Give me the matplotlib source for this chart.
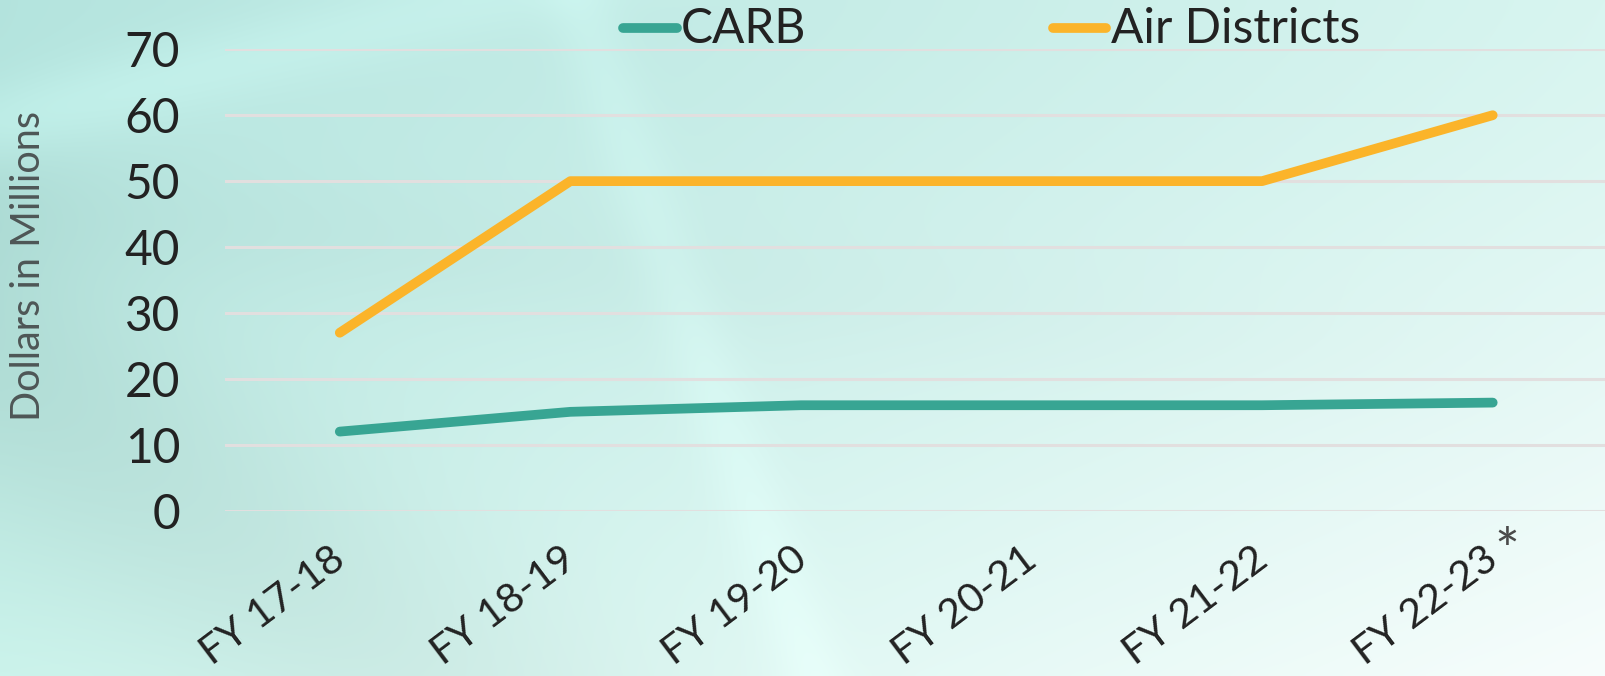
import numpy as np
import matplotlib
matplotlib.use("Agg")
import matplotlib.pyplot as plt
from matplotlib.lines import Line2D
from matplotlib.transforms import ScaledTranslation

# ---- data ----
categories = ["FY 17-18", "FY 18-19", "FY 19-20", "FY 20-21", "FY 21-22", "FY 22-23"]
carb = [12, 15, 16, 16, 16, 16.4]
air_districts = [27, 50, 50, 50, 50, 60]
series_names = ["CARB", "Air Districts"]
y_ticks = [0, 10, 20, 30, 40, 50, 60, 70]
y_label = "Dollars in Millions"
footnote_marker = "*"

CARB_COLOR = "#38a593"
AIR_COLOR = "#fbb42a"
TEXT_COLOR = "#222222"
FONT = ["Lato", "DejaVu Sans"]

W, H = 1605, 676
fig = plt.figure(figsize=(W / 100, H / 100), dpi=100)

# ---- background (soft gradient with faint light/dark shards) ----
bg = fig.add_axes([0, 0, 1, 1], zorder=-10)
bg.set_axis_off()
ny, nx = 170, 400
yy, xx = np.mgrid[0:1:ny * 1j, 0:1:nx * 1j]
TL = np.array([180, 228, 222.])
TR = np.array([216, 245, 240.])
BL = np.array([204, 244, 236.])
BR = np.array([247, 253, 252.])
yb = yy ** 1.3
img = (TL * ((1 - xx) * (1 - yb))[..., None] + TR * (xx * (1 - yb))[..., None]
       + BL * ((1 - xx) * yb)[..., None] + BR * (xx * yb)[..., None])


def band(p0, p1, width):
    p0 = np.array(p0); p1 = np.array(p1)
    d = p1 - p0
    n = np.array([-d[1], d[0]]) / np.hypot(*d)
    dist = (xx - p0[0]) * n[0] * 2.37 + (yy - p0[1]) * n[1]
    return np.exp(-(dist / width) ** 2)


img -= 14 * band((0.0, 0.55), (0.55, 0.95), 0.22)[..., None] * (1 - xx)[..., None]
img += 10 * band((0.0, 0.18), (0.5, 0.05), 0.06)[..., None] * (1 - xx)[..., None]
img += 6 * band((0.36, 0.0), (0.62, 0.75), 0.05)[..., None]
img -= 5 * band((0.0, 0.30), (0.45, 0.35), 0.10)[..., None] * (1 - xx)[..., None]
img = np.clip(img / 255.0, 0, 1)
bg.imshow(img, extent=[0, 1, 1, 0], aspect="auto", interpolation="bicubic")
bg.set_xlim(0, 1)
bg.set_ylim(1, 0)

# ---- main axes ----
left = 224.5 / W
right_px = 1608.0
bottom = (H - 510.7) / H
top = (H - 49.3) / H
ax = fig.add_axes([left, bottom, (right_px - 224.5) / W, top - bottom])
ax.patch.set_alpha(0)
x = np.arange(len(categories))
ax.set_xlim(-0.5, len(categories) - 0.5)
ax.set_ylim(0, 70)
for s in ax.spines.values():
    s.set_visible(False)
ax.set_yticks(y_ticks)
ax.yaxis.grid(True, color="#e2dfdf", linewidth=2.2)
ax.set_axisbelow(True)
ax.tick_params(axis="both", length=0)
ax.tick_params(axis="y", pad=32, labelsize=34.5, labelcolor=TEXT_COLOR)
ax.set_yticklabels([str(v) for v in y_ticks], fontfamily=FONT)
ax.set_xticks(x)
ax.set_xticklabels(categories, rotation=37, ha="right", va="top",
                   rotation_mode="anchor", fontfamily=FONT, fontsize=29.5,
                   color=TEXT_COLOR)
ax.tick_params(axis="x", pad=21)
shift = ScaledTranslation(-10 / 100, 0, fig.dpi_scale_trans)
for lab in ax.get_xticklabels():
    lab.set_transform(lab.get_transform() + shift)

ax.plot(x, carb, color=CARB_COLOR, lw=7, solid_capstyle="round",
        solid_joinstyle="round", clip_on=False, zorder=3)
ax.plot(x, air_districts, color=AIR_COLOR, lw=7, solid_capstyle="round",
        solid_joinstyle="round", clip_on=False, zorder=3)

# footnote asterisk next to last label
ax.annotate(footnote_marker, xy=(x[-1], 0), xycoords="data",
            xytext=(10, -31), textcoords="offset points",
            fontsize=42, color="#4a4a4a", fontfamily=FONT, ha="center", va="center")

# y label
fig.text(29 / W, 1 - 266 / H, y_label, rotation=90, ha="center", va="center",
         fontsize=28.5, color="#4e5656", fontfamily=FONT)

# ---- legend (manual) ----
leg_y = 1 - 28 / H
text_base = 1 - 43 / H
for (x0, x1, tx), name, col in zip([(623, 677, 681), (1053, 1106, 1111)],
                                   series_names, [CARB_COLOR, AIR_COLOR]):
    fig.add_artist(Line2D([x0 / W, x1 / W], [leg_y, leg_y], color=col, lw=7,
                          solid_capstyle="round", transform=fig.transFigure))
    fig.text(tx / W, text_base, name, ha="left", va="baseline", fontsize=34.5,
             color=TEXT_COLOR, fontfamily=FONT)

fig.savefig("out.png", dpi=100)
